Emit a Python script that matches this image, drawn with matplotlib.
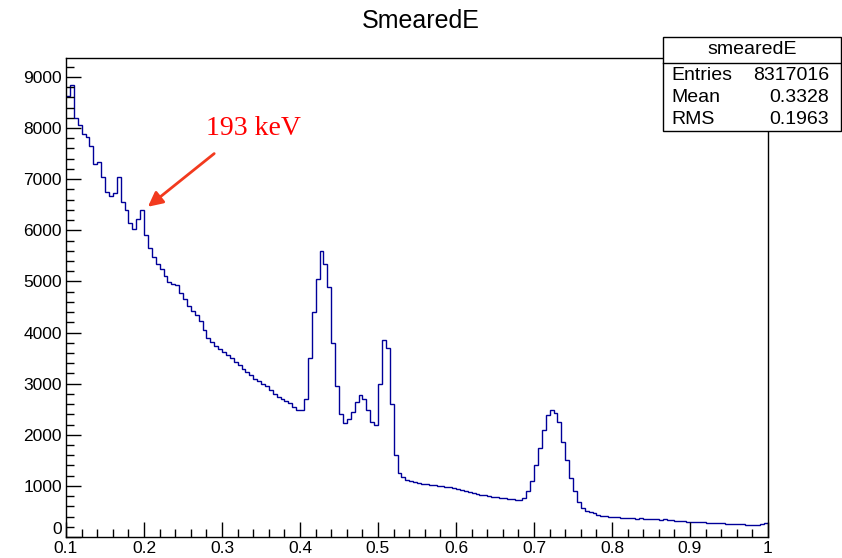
"""SmearedE energy spectrum, ROOT-style histogram"""
import matplotlib.pyplot as plt
import numpy as np

# ============================================================================
# HISTOGRAM CONTENTS (bins of 0.005 from 0.1 to 1.0, one list per 0.1 decade)
# ============================================================================
bin_lo = 0.1
bin_width = 0.005

counts_01 = [8620, 8850, 8200, 8050, 7880, 7820, 7650, 7300, 7330, 7050,
             6750, 6680, 6720, 7050, 6550, 6400, 6150, 6030, 6220, 6400]
counts_02 = [5900, 5650, 5480, 5350, 5250, 5100, 4980, 4950, 4930, 4780,
             4650, 4520, 4430, 4350, 4230, 4050, 3900, 3820, 3740, 3680]
counts_03 = [3620, 3560, 3500, 3430, 3370, 3290, 3220, 3160, 3100, 3050,
             3000, 2950, 2880, 2800, 2740, 2700, 2660, 2620, 2540, 2480]
counts_04 = [2480, 2700, 3500, 4400, 5050, 5600, 5350, 4900, 3800, 2950,
             2400, 2230, 2300, 2450, 2650, 2770, 2700, 2480, 2250, 2200]
counts_05 = [3000, 3850, 3700, 2600, 1600, 1250, 1180, 1120, 1090, 1070,
             1060, 1040, 1030, 1020, 1010, 1000, 990, 980, 970, 960]
counts_06 = [940, 920, 900, 880, 870, 850, 830, 820, 800, 790,
             780, 770, 760, 750, 740, 730, 730, 760, 900, 1100]
counts_07 = [1400, 1750, 2100, 2380, 2480, 2430, 2250, 1850, 1500, 1150,
             900, 680, 560, 510, 480, 460, 440, 420, 410, 400]
counts_08 = [390, 385, 380, 375, 380, 370, 360, 365, 355, 350,
             355, 345, 340, 350, 330, 325, 320, 310, 305, 300]
counts_09 = [295, 290, 285, 290, 280, 275, 270, 265, 270, 260,
             255, 250, 255, 245, 240, 235, 240, 230, 245, 265]

# stats box
stats_name = 'smearedE'
stats_rows = [('Entries', '8317016'), ('Mean', '0.3328'), ('RMS', '0.1963')]

# annotation
peak_label = '193 keV'
peak_xy = (0.205, 6460)
label_xy = (0.29, 7500)

counts = np.concatenate([counts_01, counts_02, counts_03, counts_04, counts_05,
                         counts_06, counts_07, counts_08, counts_09])
edges = bin_lo + bin_width * np.arange(len(counts) + 1)

# ============================================================================
# PLOTTING
# ============================================================================
plt.rcParams['font.family'] = ['Liberation Sans', 'DejaVu Sans']

fig = plt.figure(figsize=(8.42, 5.58), dpi=100)
ax = fig.add_axes([66/842, 21/558, 702/842, 479/558])

ax.stairs(counts, edges, baseline=None, color='#000099', linewidth=1.0)

ax.set_xlim(0.1, 1.0)
ax.set_ylim(0, 9370)

ax.set_xticks(np.arange(0.1, 1.01, 0.1))
ax.set_xticklabels(['0.1', '0.2', '0.3', '0.4', '0.5', '0.6', '0.7', '0.8', '0.9', '1'])
ax.set_xticks(np.arange(0.1, 1.0, 0.02), minor=True)
ax.set_yticks(np.arange(0, 9001, 1000))
ax.set_yticks(np.arange(0, 9370, 200), minor=True)

ax.tick_params(which='both', direction='in', top=False, right=False,
               labelsize=12.5, colors='black')
ax.tick_params(which='major', length=10.5, width=1)
ax.tick_params(which='minor', length=5.5, width=1)
ax.tick_params(axis='x', pad=3)
ax.tick_params(axis='y', pad=3)
ylabels = ax.get_yticklabels()
for lbl in ylabels:
    lbl.set_verticalalignment('center_baseline')
ylabels[0].set_verticalalignment('bottom')  # ROOT lifts the "0" above the x labels
for sp in ax.spines.values():
    sp.set_linewidth(1)

# --- ANNOTATION ---
ax.annotate('', xy=peak_xy, xytext=label_xy,
            arrowprops=dict(arrowstyle='-|>', color='#f23a1e', lw=2,
                            mutation_scale=22, shrinkA=0, shrinkB=0))
ax.text(0.279, 7990, peak_label, color='red', fontsize=20,
        family=['Liberation Serif', 'DejaVu Serif'], ha='left', va='center')

# --- TITLE ---
fig.text(0.5, 1 - 21/558, 'SmearedE', ha='center', va='center', fontsize=18)

# --- STATS BOX ---
bx0, bx1 = 663/842, 841/842
by_top, by_bot, by_sep = 1 - 37/558, 1 - 131/558, 1 - 63/558
box = plt.Rectangle((bx0, by_bot), bx1 - bx0, by_top - by_bot, transform=fig.transFigure,
                    facecolor='white', edgecolor='black', linewidth=1, zorder=5)
fig.patches.append(box)
fig.add_artist(plt.Line2D([bx0, bx1], [by_sep, by_sep], transform=fig.transFigure,
                          color='black', linewidth=1, zorder=6))
fig.text((bx0 + bx1) / 2, 1 - 50/558, stats_name, ha='center', va='center',
         fontsize=14, zorder=7)
row_y = [75, 98, 120]
for (name, val), yy in zip(stats_rows, row_y):
    fig.text(671/842, 1 - yy/558, name, ha='left', va='center', fontsize=14, zorder=7)
    fig.text(829/842, 1 - yy/558, val, ha='right', va='center', fontsize=14, zorder=7)

plt.savefig('out.png', dpi=100)
